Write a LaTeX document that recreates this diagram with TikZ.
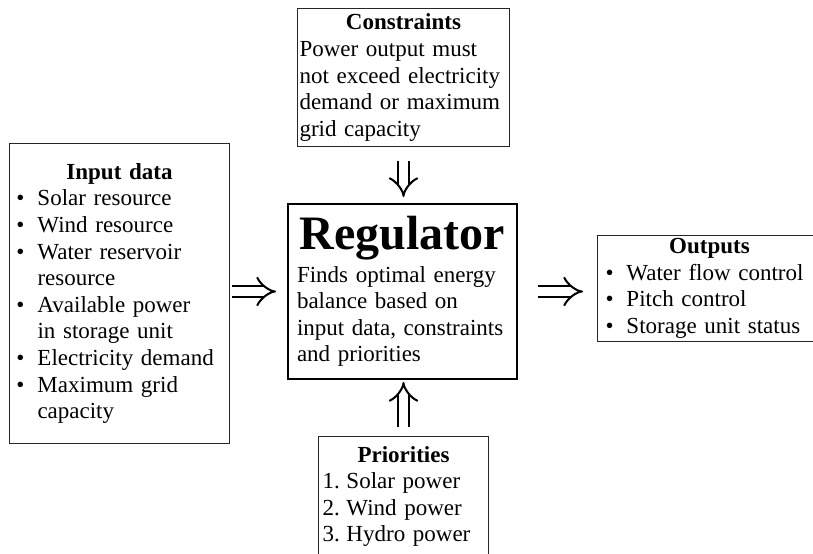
\documentclass[tikz,border=0pt]{standalone}
\usepackage{fontspec}
\setmainfont{Liberation Serif}
\usetikzlibrary{arrows.meta}

\tikzset{
  box/.style={draw=black!85, line width=0.5pt, anchor=north west, align=left,
    inner ysep=1.5pt, font=\fontsize{11.5}{13.3}\selectfont},
  regbox/.style={box, draw=black, line width=1pt},
  dblarrow/.style={double, double distance=4.2pt, line width=1pt,
    -{Implies[length=7pt, width=13pt]}},
}
\newcommand{\boxtitle}[1]{\makebox[\linewidth]{\bfseries #1}}
\newcommand{\itm}{\makebox[10.5pt][l]{\textbullet}}
\newcommand{\cnt}{\hspace*{10.5pt}}
\newcommand{\num}[1]{\makebox[12pt][l]{#1.}}

\begin{document}
\begin{tikzpicture}[x=0.5pt, y=-0.5pt]
  \useasboundingbox (0,0) rectangle (813,553);

  % Boxes
  \node[box, inner xsep=1pt, text width=104pt, minimum height=69pt] (con) at (297,8)
    {\boxtitle{Constraints}\\
     Power output must\\
     not exceed electricity\\
     demand or maximum\\
     grid capacity};

  \node[box, inner xsep=3.5pt, text width=103pt, minimum height=150pt] (inp) at (9,143)
    {\boxtitle{Input data}\\
     \itm Solar resource\\
     \itm Wind resource\\
     \itm Water reservoir\\
     \cnt resource\\
     \itm Available power\\
     \cnt in storage unit\\
     \itm Electricity demand\\
     \itm Maximum grid\\
     \cnt capacity};

  \node[regbox, inner xsep=4.5pt, text width=105.5pt, minimum height=87.5pt] (reg) at (287,203)
    {\makebox[\linewidth]{\fontsize{24}{27}\selectfont\bfseries Regulator}\\[3pt]
     Finds optimal energy\\
     balance based on\\
     input data, constraints\\
     and priorities};

  \node[box, inner xsep=4pt, text width=104pt, minimum height=49.5pt] (out) at (597,235)
    {\boxtitle{Outputs}\\
     \itm Water flow control\\
     \itm Pitch control\\
     \itm Storage unit status};

  \node[box, inner xsep=2pt, text width=81pt, minimum height=60pt] (pri) at (318,436)
    {\boxtitle{Priorities}\\
     \num{1}Solar power\\
     \num{2}Wind power\\
     \num{3}Hydro power};

  % Arrows into and out of the regulator
  \draw[dblarrow, shorten <=1pt, shorten >=5.5pt] (inp.east |- reg.center) -- (reg.west);
  \draw[dblarrow, shorten <=10pt, shorten >=7pt] (reg.east) -- (out.west |- reg.east);
  \draw[dblarrow, shorten <=7pt, shorten >=3pt] (con.south) -- (con.south |- reg.north);
  \draw[dblarrow, shorten <=4.5pt, shorten >=1pt] (pri.north) -- (pri.north |- reg.south);
\end{tikzpicture}
\end{document}
